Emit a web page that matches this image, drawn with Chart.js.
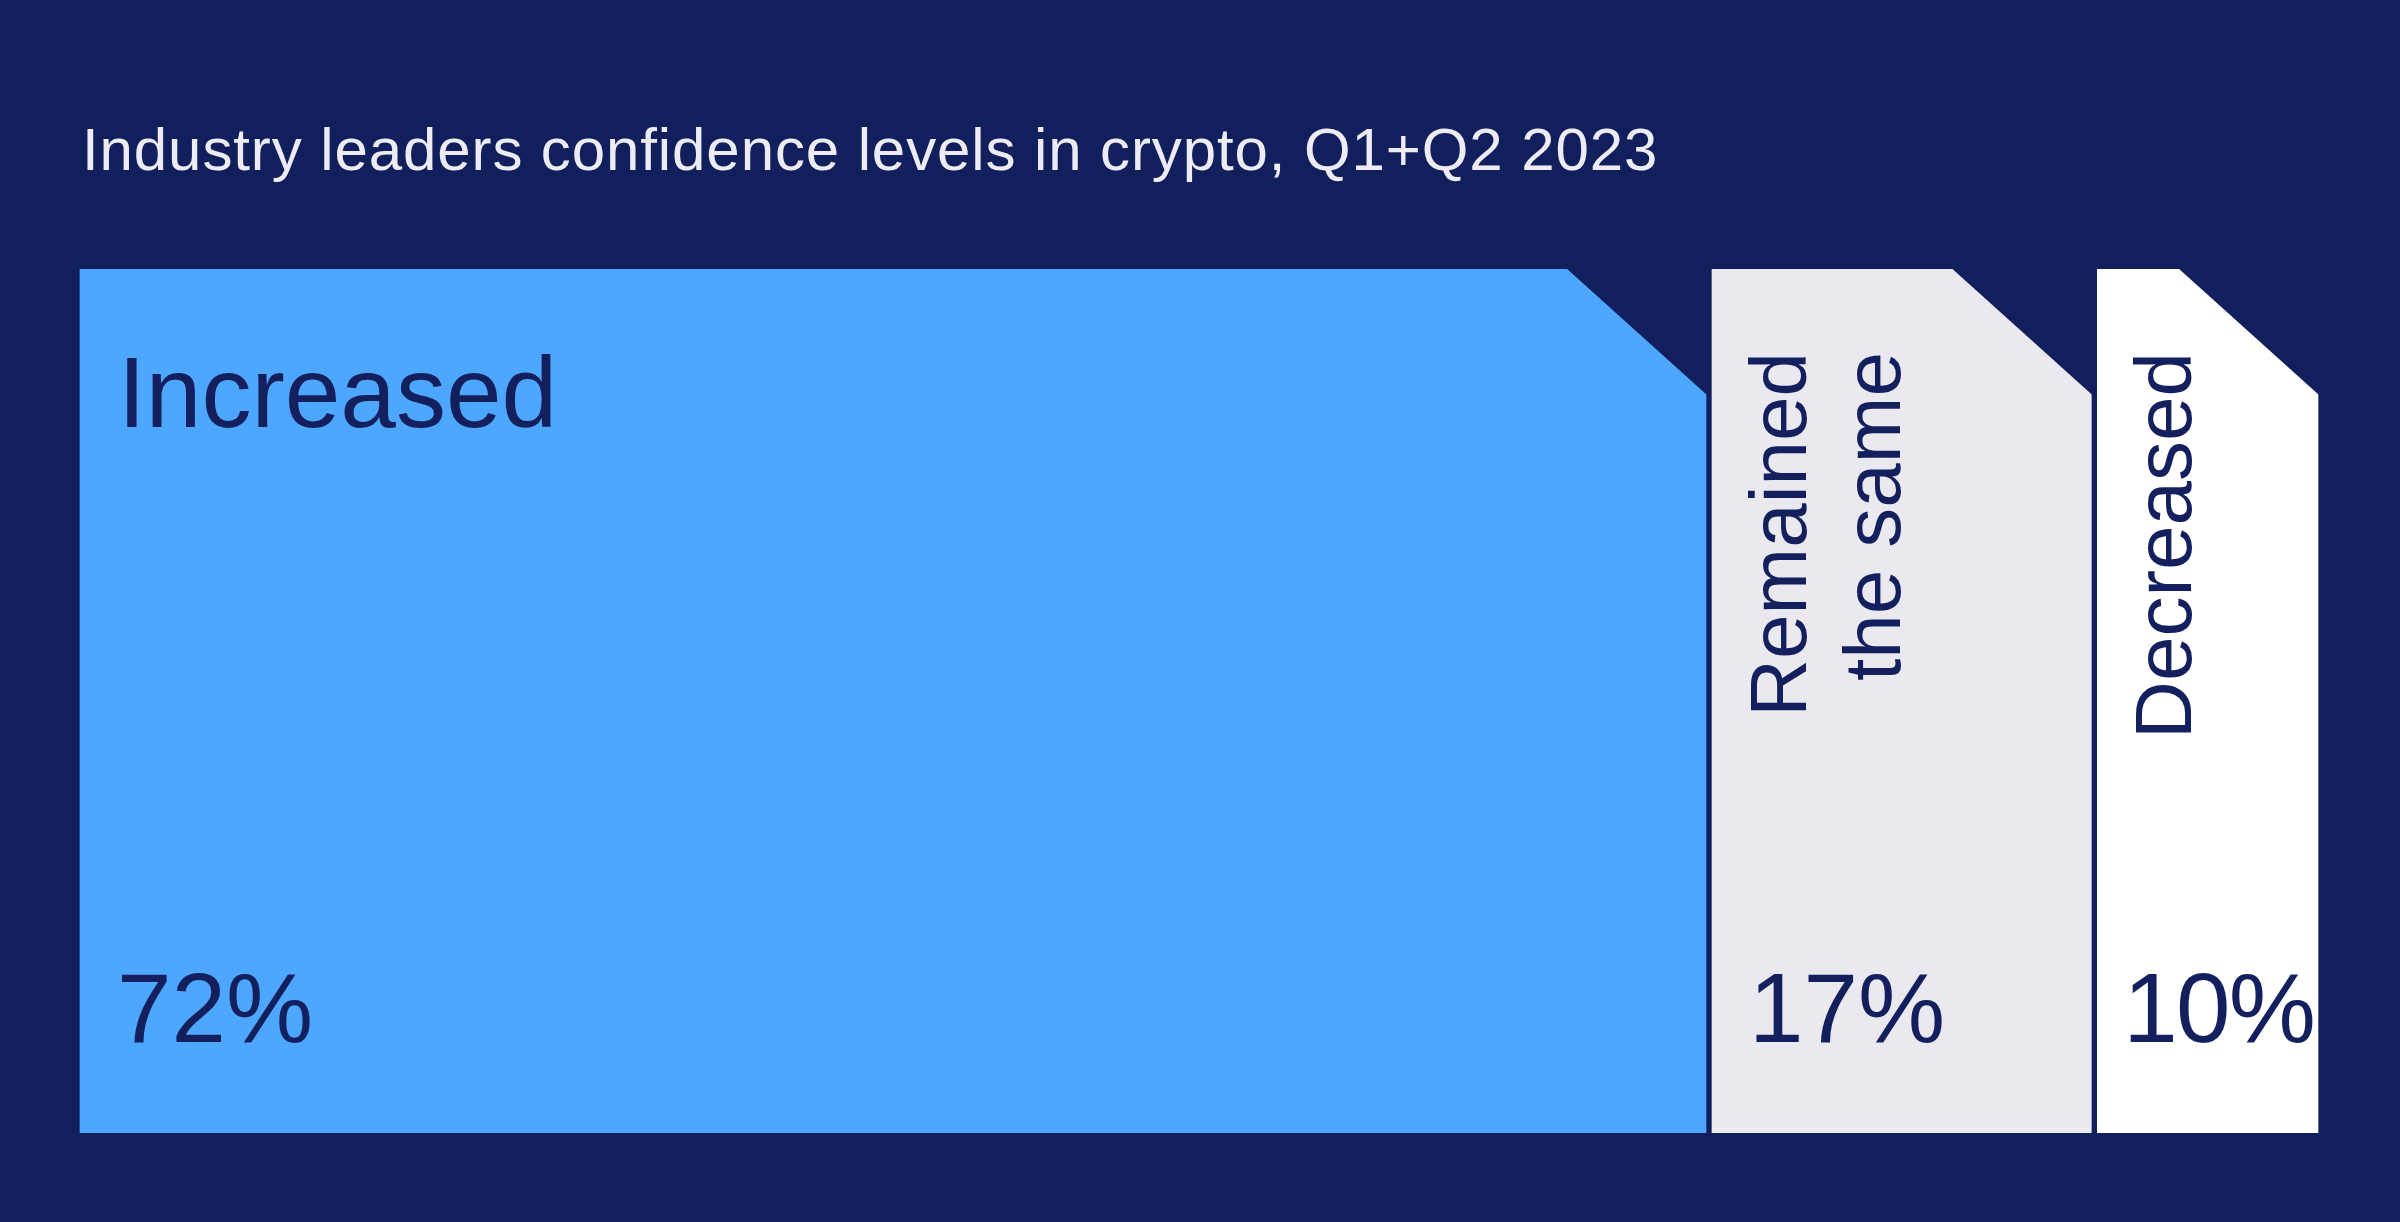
<!DOCTYPE html>
<html>
<head>
<meta charset="utf-8">
<title>Industry leaders confidence levels in crypto</title>
<script src="https://cdn.jsdelivr.net/npm/chart.js@4/dist/chart.umd.min.js"></script>
<style>
  html, body { margin: 0; padding: 0; background: #111F5C; overflow: hidden; }
  canvas { display: block; }
</style>
</head>
<body>
<canvas id="confidenceChart" width="2400" height="1222"></canvas>
<script>
/* Confidence levels chart */
const TITLE = 'Industry leaders confidence levels in crypto, Q1+Q2 2023';
const categories = ['Increased', 'Remained the same', 'Decreased'];
const labelLines = [['Increased'], ['Remained', 'the same'], ['Decreased']];
const values = [72, 17, 10];
const colors = ['#4DA7FF', '#EBE9F0', '#FFFFFF'];

const NAVY = '#111F5C';
const INK = '#14205E';
const FONT = '"Liberation Sans", Arial, sans-serif';
const GAP = 3; // half of the gap between slabs

// draws title, cut corners and the labels on top of the bars
const slabPlugin = {
  id: 'slabs',
  afterDatasetsDraw(chart) {
    const ctx = chart.ctx;
    const cutW = 140, cutH = 126;
    ctx.save();

    ctx.fillStyle = '#EDEBF4';
    ctx.font = '60px ' + FONT;
    ctx.letterSpacing = '0.9px';
    ctx.textBaseline = 'alphabetic';
    ctx.textAlign = 'left';
    ctx.fillText(TITLE, 82, 170);
    ctx.letterSpacing = '0px';

    chart.data.datasets.forEach((ds, i) => {
      const el = chart.getDatasetMeta(i).data[0];
      const p = el.getProps(['x', 'y', 'base', 'height'], true);
      const left = p.base + GAP, right = p.x - GAP;
      const top = p.y - p.height / 2, bottom = p.y + p.height / 2;

      // cut the top right corner
      ctx.fillStyle = NAVY;
      ctx.beginPath();
      ctx.moveTo(right - cutW, top - 1);
      ctx.lineTo(right + 1, top - 1);
      ctx.lineTo(right + 1, top + cutH);
      ctx.closePath();
      ctx.fill();

      ctx.fillStyle = INK;
      ctx.textAlign = 'left';
      ctx.textBaseline = 'alphabetic';

      // value, nudged left when the slab is narrow
      ctx.font = '98px ' + FONT;
      const txt = values[i] + '%';
      const w = ctx.measureText(txt).width;
      let x = left + 37;
      if (x + w > right - 6) {
        x = left + 26;
        const room = right - 4 - x;
        if (w > room) ctx.letterSpacing = ((room - w) / txt.length).toFixed(1) + 'px';
      }
      ctx.fillText(txt, x, bottom - 91);
      ctx.letterSpacing = '0px';

      // category name
      const lines = labelLines[i];
      if (right - left > 600) {
        ctx.font = '100px ' + FONT;
        ctx.fillText(lines[0], left + 38, top + 158);
      } else {
        ctx.font = '80px ' + FONT;
        ctx.save();
        ctx.translate(left + 94, top + 83);
        ctx.rotate(-Math.PI / 2);
        ctx.textAlign = 'right';
        lines.forEach((t, k) => ctx.fillText(t, 0, k * 94));
        ctx.restore();
      }
    });
    ctx.restore();
  }
};

const total = values.reduce((a, b) => a + b, 0);

new Chart(document.getElementById('confidenceChart'), {
  type: 'bar',
  data: {
    labels: ['Q1+Q2 2023'],
    datasets: categories.map((c, i) => ({
      label: c,
      data: [values[i]],
      backgroundColor: colors[i],
      borderColor: NAVY,
      borderWidth: { left: GAP, right: GAP, top: 0, bottom: 0 },
      borderSkipped: false,
      barPercentage: 1,
      categoryPercentage: 1
    }))
  },
  options: {
    indexAxis: 'y',
    responsive: false,
    devicePixelRatio: 1,
    animation: false,
    layout: { padding: { left: 80 - GAP, right: 82 - GAP, top: 269, bottom: 89 } },
    plugins: { legend: { display: false }, tooltip: { enabled: false }, title: { display: false } },
    scales: {
      x: { stacked: true, min: 0, max: total, display: false },
      y: { stacked: true, display: false }
    }
  },
  plugins: [slabPlugin]
});
</script>
</body>
</html>
